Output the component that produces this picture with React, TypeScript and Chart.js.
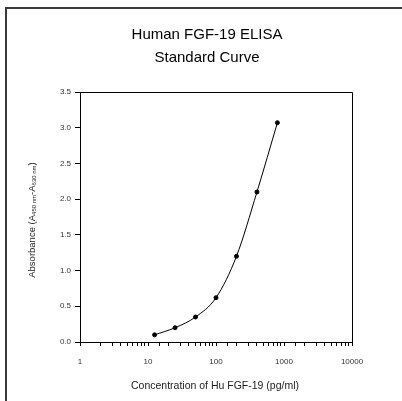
import React, { useEffect, useRef } from "react";
import { Chart, registerables } from "chart.js";

Chart.register(...registerables);

const concentrations = [12.5, 25, 50, 100, 200, 400, 800];
const absorbances = [0.1, 0.2, 0.35, 0.62, 1.2, 2.1, 3.07];
const xTickLabels = [1, 10, 100, 1000, 10000];
const titleLines = ["Human FGF-19 ELISA", "Standard Curve"];
const xTitle = "Concentration of Hu FGF-19 (pg/ml)";
const yTitleParts: [string, boolean][] = [
  ["Absorbance (A", false],
  ["450 nm", true],
  ["-A", false],
  ["630 nm", true],
  [")", false],
];

const FONT = '"Liberation Sans", Arial, sans-serif';

const decorPlugin = {
  id: "decor",
  afterDraw(chart: any) {
    const ctx = chart.ctx as CanvasRenderingContext2D;
    const a = chart.chartArea;
    ctx.save();
    // outer frame (left + top)
    ctx.fillStyle = "#3a3a3a";
    ctx.fillRect(5, 7, 2, 394);
    ctx.fillRect(5, 7, 397, 2);
    // plot box top & right
    ctx.strokeStyle = "#000";
    ctx.lineWidth = 1;
    ctx.beginPath();
    ctx.moveTo(a.left, Math.round(a.top) + 0.5);
    ctx.lineTo(Math.round(a.right) + 0.5, Math.round(a.top) + 0.5);
    ctx.lineTo(Math.round(a.right) + 0.5, a.bottom);
    ctx.stroke();
    // title
    ctx.fillStyle = "#000";
    ctx.textAlign = "center";
    ctx.textBaseline = "middle";
    ctx.font = `15px ${FONT}`;
    ctx.fillText(titleLines[0], 207, 35);
    ctx.fillText(titleLines[1], 207, 58);
    // x title
    ctx.fillStyle = "#222";
    ctx.font = `10.5px ${FONT}`;
    ctx.fillText(xTitle, 215, 386);
    // y title with subscripts
    ctx.translate(31, 220);
    ctx.rotate(-Math.PI / 2);
    ctx.textAlign = "left";
    ctx.textBaseline = "alphabetic";
    const normal = `9.5px ${FONT}`;
    const sub = `6px ${FONT}`;
    let total = 0;
    for (const [t, s] of yTitleParts) {
      ctx.font = s ? sub : normal;
      total += ctx.measureText(t).width;
    }
    let x = -total / 2;
    for (const [t, s] of yTitleParts) {
      ctx.font = s ? sub : normal;
      ctx.fillText(t, x, s ? 5 : 3.5);
      x += ctx.measureText(t).width;
    }
    ctx.restore();
  },
};

export default function App() {
  const ref = useRef<HTMLCanvasElement | null>(null);
  useEffect(() => {
    if (!ref.current) return;
    const chart = new Chart(ref.current, {
      type: "line",
      data: {
        datasets: [
          {
            data: concentrations.map((c, i) => ({ x: c, y: absorbances[i] })),
            borderColor: "#000",
            borderWidth: 1,
            backgroundColor: "#000",
            pointBackgroundColor: "#000",
            pointBorderColor: "#000",
            pointRadius: 2,
            pointStyle: "circle",
            cubicInterpolationMode: "monotone",
            fill: false,
          },
        ],
      },
      options: {
        responsive: false,
        animation: false,
        layout: { padding: { left: 0, right: 50, top: 92, bottom: 0 } },
        plugins: {
          legend: { display: false },
          title: { display: false },
          tooltip: { enabled: false },
        },
        scales: {
          x: {
            type: "logarithmic",
            min: 1,
            max: 10000,
            afterFit: (s: any) => {
              s.height = 59;
            },
            border: { display: true, color: "#000", width: 1 },
            grid: {
              drawOnChartArea: false,
              drawTicks: true,
              tickLength: 4,
              color: "#000",
            },
            ticks: {
              autoSkip: false,
              maxRotation: 0,
              padding: 11,
              color: "#333",
              font: { family: FONT, size: 8 },
              callback: (v: any) => (xTickLabels.includes(Number(v)) ? String(v) : ""),
            },
          },
          y: {
            type: "linear",
            min: 0,
            max: 3.5,
            afterFit: (s: any) => {
              s.width = 80;
            },
            border: { display: true, color: "#000", width: 1 },
            grid: {
              drawOnChartArea: false,
              drawTicks: true,
              tickLength: 5,
              color: "#000",
            },
            ticks: {
              stepSize: 0.5,
              padding: 4,
              color: "#333",
              font: { family: FONT, size: 8 },
              callback: (v: any) => Number(v).toFixed(1),
            },
          },
        },
      },
      plugins: [decorPlugin],
    });
    return () => chart.destroy();
  }, []);
  return (
    <div style={{ position: "fixed", left: 0, top: 0, width: 402, height: 401, background: "#fff" }}>
      <canvas ref={ref} width={402} height={401} style={{ display: "block" }} />
    </div>
  );
}
